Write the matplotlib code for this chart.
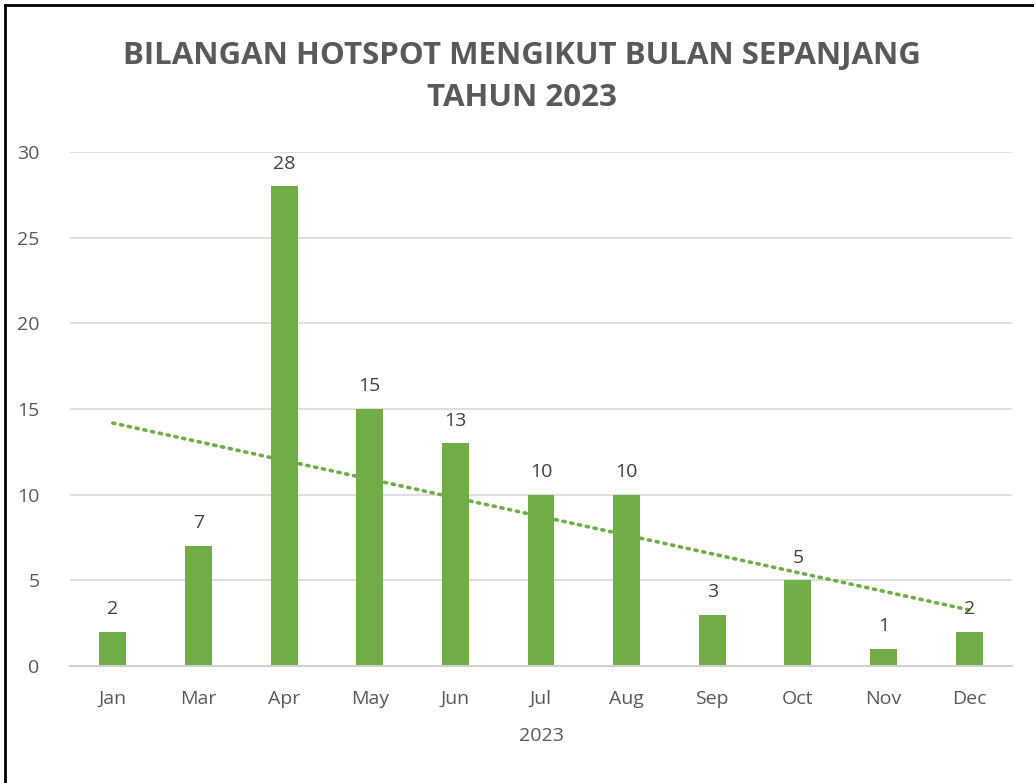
import numpy as np
import matplotlib
matplotlib.use("Agg")
import matplotlib.pyplot as plt
from matplotlib.lines import Line2D

months = ['Jan', 'Mar', 'Apr', 'May', 'Jun', 'Jul', 'Aug', 'Sep', 'Oct', 'Nov', 'Dec']
hotspots = [2, 7, 28, 15, 13, 10, 10, 3, 5, 1, 2]
year_label = '2023'
title = 'BILANGAN HOTSPOT MENGIKUT BULAN SEPANJANG\nTAHUN 2023'

plt.rcParams['font.family'] = ['Open Sans', 'DejaVu Sans']

green = '#70AD47'
grey = '#595959'

fig = plt.figure(figsize=(10.34, 7.83), dpi=100)
ax = fig.add_axes([0.0677, 0.1494, 0.911, 0.6565])

x = np.arange(len(months))
ax.bar(x, hotspots, width=0.315, color=green, zorder=2)

# linear trendline like in Excel
slope, intercept = np.polyfit(x, hotspots, 1)
ax.plot(x, slope * x + intercept, linestyle=(0, (0.6, 1.6)), color=green,
        linewidth=2.6, dash_capstyle='round', zorder=3)

for xi, v in zip(x, hotspots):
    ax.text(xi, v + 0.8, str(v), ha='center', va='bottom', fontsize=14, color='#404040')

ax.set_xlim(-0.5, len(months) - 0.5)
ax.set_ylim(0, 30)
ax.set_yticks(range(0, 31, 5))
ax.set_xticks(x)
ax.set_xticklabels(months)
ax.tick_params(axis='both', length=0, labelsize=14, labelcolor=grey)
ax.tick_params(axis='x', pad=17)
ax.tick_params(axis='y', pad=22)
ax.grid(axis='y', color='#d9d9d9', linewidth=1.2, zorder=0)
for s in ['top', 'right', 'left']:
    ax.spines[s].set_visible(False)
ax.spines['bottom'].set_color('#d0d0d0')
ax.spines['bottom'].set_linewidth(1.5)
ax.set_xlabel(year_label, fontsize=14, color=grey, labelpad=14)

fig.text(0.505, 0.856, title, ha='center', va='bottom', fontsize=22.5,
         fontweight='bold', color=grey, linespacing=1.5)

# frame edges visible in the screenshot
fig.add_artist(Line2D([0.005, 0.005], [0, 0.993], color='black', linewidth=2, transform=fig.transFigure))
fig.add_artist(Line2D([0.005, 1], [0.993, 0.993], color='black', linewidth=2, transform=fig.transFigure))

fig.savefig('out.png', dpi=100)
